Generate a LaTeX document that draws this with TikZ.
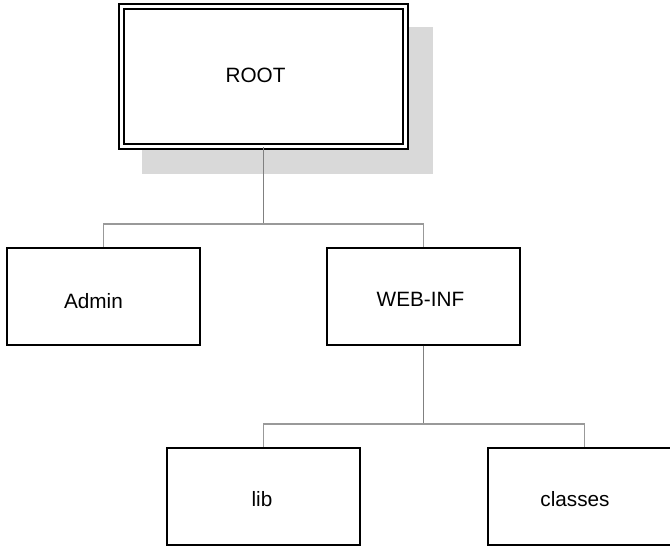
\documentclass[tikz,border=0pt]{standalone}
\usepackage{fontspec}
\setmainfont{Liberation Sans}
\usetikzlibrary{calc}

\tikzset{
  folder/.style={draw, line width=0.75pt, fill=white, inner sep=0pt,
    minimum width=3.86cm, minimum height=1.94cm},
  rootbox/.style={draw, double, double distance=2.2pt, line width=0.75pt,
    inner sep=0pt, minimum width=5.68cm, minimum height=2.8cm},
  stem/.style={draw=black!50, line width=1.1pt},
  branch/.style={draw=black!40, line width=0.75pt},
}

\begin{document}
\begin{tikzpicture}[x=0.02cm, y=-0.02cm]
            \useasboundingbox (0,0) rectangle (670,545);
            \clip (0,0) rectangle (670,545);
            {\fontsize{11.8pt}{14pt}\selectfont

            % Shadow behind ROOT
            \fill [black!15] (142,27) rectangle (433,174);%

            % Box ROOT
            \node [rootbox, fill=white, label={[shift={(-8,-1.5)}]center:ROOT}] (root) at (263.5,76.5) {};%

            % Boxes of the second level
            \node [folder, label={[shift={(-10,5)}]center:Admin}] (admin) at (103.5,296.5) {};%
            \node [folder, label={[shift={(-3,3)}]center:WEB-INF}] (webinf) at (423.5,296.5) {};%

            % Boxes of the third level
            \node [folder, label={[shift={(-1.5,2.5)}]center:lib}] (lib) at (263.5,496.5) {};%
            \node [folder, label={[shift={(-9.5,2.5)}]center:classes}] (classes) at (584.5,496.5) {};%

            % Forks
            \coordinate (fork root) at (263.5,224);%
            \coordinate (fork webinf) at (423.5,424);%

            % Drawing tree ROOT
            \draw [stem] (root.south) -- (fork root);%
            \draw [branch] (fork root) -| (admin.north);%
            \draw [branch] (fork root) -| (webinf.north);%

            % Drawing tree WEB-INF
            \draw [stem] (webinf.south) -- (fork webinf);%
            \draw [branch] (fork webinf) -| (lib.north);%
            \draw [branch] (fork webinf) -| (classes.north);%
            }
\end{tikzpicture}
\end{document}
